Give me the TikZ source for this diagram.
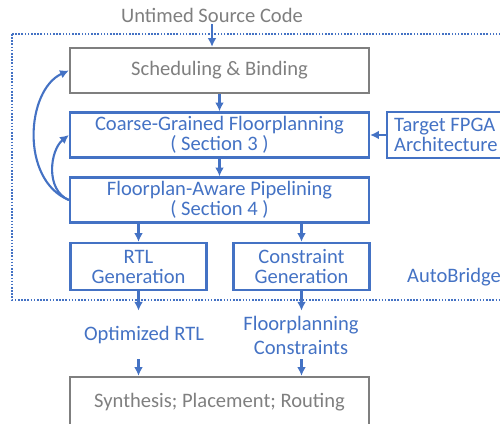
\documentclass[tikz,border=0pt]{standalone}
\usepackage{fontspec}
\setmainfont{Carlito}
\usepackage{xcolor}
\usetikzlibrary{shapes,arrows,arrows.meta,positioning,fit,backgrounds,calc}
\definecolor{abblue}{HTML}{4472C4}
\definecolor{abgray}{HTML}{7F7F7F}

\begin{document}
\begin{tikzpicture}[
    x=0.02cm, y=-0.02cm,
    every node/.style={font=\fontsize{11.7}{11.4}\selectfont, align=center, inner sep=1pt},
    stage/.style={draw=abblue, text=abblue, line width=1.3pt, rectangle, minimum width=5.98cm, minimum height=0.9cm},
    graystage/.style={stage, draw=abgray, text=abgray},
    half/.style={stage, minimum width=2.72cm, minimum height=0.94cm},
    label/.style={text=abblue, minimum height=0.96cm},
    arr/.style={-{Latex[length=5pt,width=5pt]}, abblue, line width=1.2pt}
]
\useasboundingbox (0,0) rectangle (500,423);

% AutoBridge frame
\draw[abblue, line width=0.9pt, dash pattern=on 0.9pt off 0.9pt] (12,34) rectangle (520,300);

\node[text=abgray] (src) at (212,15) {Untimed Source Code};
\node[graystage] (sched) at (219.5,70.5) {Scheduling \& Binding};
\node[stage] (coarse) at (219.5,135) {Coarse-Grained Floorplanning\\( Section 3 )};
\node[stage] (aware) at (219.5,200) {Floorplan-Aware Pipelining\\( Section 4 )};
\node[stage, minimum width=0cm, minimum height=0.92cm, anchor=west, align=left, inner xsep=0.14cm] (target) at (386,135) {Target FPGA\\Architecture};
\node[half] (rtl) at (138.5,266.5) {RTL\\Generation};
\node[half] (cons) at (301.5,266.5) {Constraint\\Generation};
\node[text=abblue, anchor=west] (bridge) at (405,277) {AutoBridge};

\node[label] (opt) at (144,335) {Optimized RTL};
\node[label, font=\fontsize{11.7}{13.6}\selectfont] (consl) at (301,335) {Floorplanning\\Constraints};
\node[graystage, minimum height=1cm] (synth) at (219.5,402) {Synthesis; Placement; Routing};

% main flow
\draw[arr] (src.south) -- (src.south |- sched.north);
\draw[arr] (sched) -- (coarse);
\draw[arr] (coarse) -- (aware);
\draw[arr] (target) -- (coarse);
\draw[arr] (rtl.north |- aware.south) -- (rtl.north);
\draw[arr] (cons.north |- aware.south) -- (cons.north);
\draw[arr] (rtl.south) -- (rtl.south |- opt.north);
\draw[arr] (cons.south) -- (cons.south |- consl.north);
\draw[arr] (rtl.south |- opt.south) -- (rtl.south |- synth.north);
\draw[arr] (cons.south |- consl.south) -- (cons.south |- synth.north);

% feedback loops
\draw[arr] (aware.west) .. controls (20,180) and (26,90) .. (sched.west);
\draw[arr] (aware.west) .. controls (45,190) and (50,150) .. (coarse.west);
\end{tikzpicture}
\end{document}
